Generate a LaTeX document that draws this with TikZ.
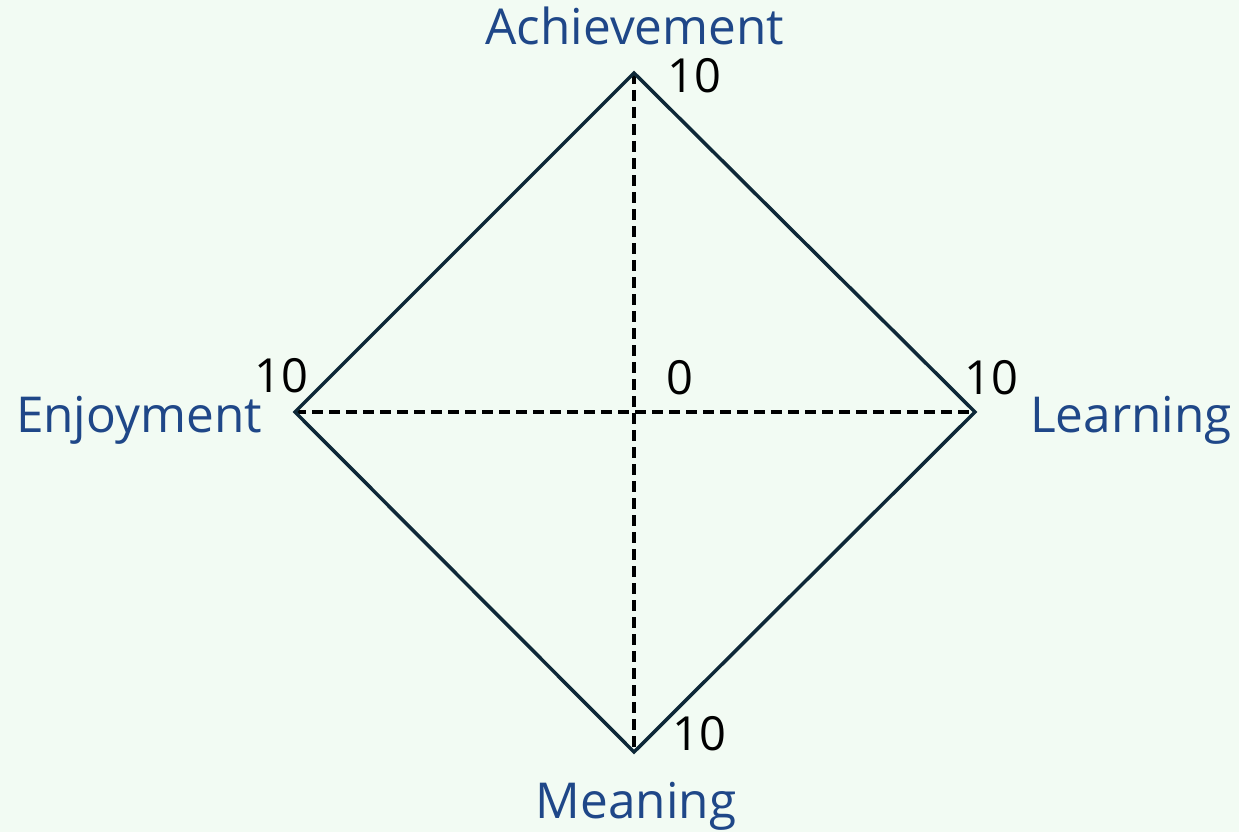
\documentclass[tikz,border=0pt]{standalone}
\usepackage{fontspec}
\setmainfont{Open Sans}
\definecolor{bgc}{HTML}{F2FBF3}
\definecolor{lbl}{HTML}{1F4788}
\definecolor{edge}{HTML}{0E2838}
\begin{document}
\begin{tikzpicture}[x=1pt,y=-1pt,
  catlabel/.style={text=lbl,font=\fontsize{49.5}{54}\selectfont,inner sep=0pt,anchor=base},
  numlabel/.style={text=black,font=\fontsize{47}{50}\selectfont,inner sep=0pt,anchor=base},
  rim/.style={draw=edge,line width=3.5pt,line join=miter},
  axisline/.style={draw=black,line width=3.5pt,dash pattern=on 11pt off 6pt}]
\fill[bgc] (0,0) rectangle (1239,832);
\useasboundingbox (0,0) rectangle (1239,832);
\coordinate (T) at (634,73);
\coordinate (R) at (975,412);
\coordinate (B) at (634,752);
\coordinate (L) at (295,412);
\path[axisline] (T) -- (B);
\path[axisline] (L) -- (R);
\path[rim] (T) -- (R) -- (B) -- (L) -- cycle;
\node[catlabel] (ach) at (635,45) {Achievement};
\node[catlabel] (enj) at (139,432) {Enjoyment};
\node[catlabel] (lea) at (1131,432) {Learning};
\node[catlabel] (mea) at (636,818) {Meaning};
\node[numlabel] (nt) at (694,93) {10};
\node[numlabel] (nl) at (281,392) {10};
\node[numlabel] (nc) at (680,394) {0};
\node[numlabel] (nr) at (991,394) {10};
\node[numlabel] (nb) at (699,750) {10};
\end{tikzpicture}
\end{document}
